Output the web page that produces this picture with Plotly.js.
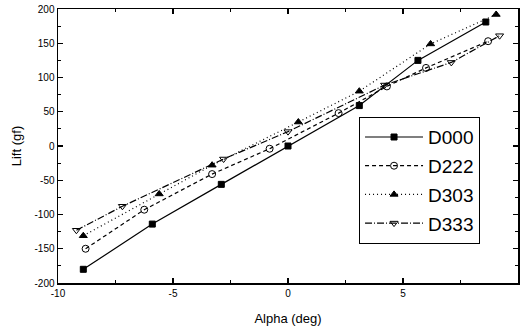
<!DOCTYPE html>
<html><head><meta charset="utf-8">
<script src="https://cdn.plot.ly/plotly-3.0.1.min.js"></script>
<style>html,body{margin:0;padding:0;background:#fff}#c{width:523px;height:330px}</style>
</head><body><div id="c"></div>
<script>
const names = ["D000", "D222", "D303", "D333"];
const xD000 = [-8.9, -5.9, -2.9, 0.0, 3.1, 5.65, 8.6];
const yD000 = [-180, -114, -56, 0, 59, 125, 181];
const xD222 = [-8.8, -6.25, -3.3, -0.8, 2.2, 4.3, 6.0, 8.7];
const yD222 = [-150, -93, -41, -4, 48, 87, 114, 153];
const xD303 = [-8.9, -5.6, -3.3, 0.45, 3.1, 6.2, 9.05];
const yD303 = [-131, -70, -28, 35, 80, 149, 192];
const xD333 = [-9.2, -7.2, -2.8, 0.0, 4.2, 7.1, 9.2];
const yD333 = [-123, -88, -19, 21, 89, 122, 161];
const xTicks = [-10, -5, 0, 5, 10];
const yTicks = [-200, -150, -100, -50, 0, 50, 100, 150, 200];

const xs = [xD000, xD222, xD303, xD333];
const ys = [yD000, yD222, yD303, yD333];
const dashes = ["solid", "4px,3px", "1px,3px", "7px,2px,1px,2px"];
const symbols = ["square", "circle-open", "triangle-up", "triangle-down-open"];
const sizes = [6, 7, 7, 7];

const traces = names.map((n, i) => ({
  x: xs[i], y: ys[i], name: n, legendgroup: n, type: "scatter", mode: "lines+markers",
  line: {color: "#000", width: 1.2, dash: dashes[i]},
  marker: {symbol: symbols[i], size: sizes[i], color: "#000", line: {color: "#000", width: 1}}
}));

const fam = "Liberation Sans, Arial, sans-serif";
const axisCommon = {
  showgrid: false, zeroline: false, showline: true, linecolor: "#000", linewidth: 1.5,
  mirror: "ticks", ticks: "inside", ticklen: 5, tickwidth: 1.2, tickcolor: "#000",
  tickfont: {family: fam, size: 10, color: "#000"}
};

const layout = {
  width: 523, height: 330,
  margin: {l: 58, r: 5, t: 9, b: 47},
  paper_bgcolor: "#fff", plot_bgcolor: "#fff",
  showlegend: true,
  legend: {
    x: 0.654, y: 0.606, xanchor: "left", yanchor: "top",
    bordercolor: "#000", borderwidth: 1.2, bgcolor: "#fff",
    font: {family: fam, size: 19, color: "#000"},
    tracegroupgap: 1, itemwidth: 58
  },
  xaxis: Object.assign({}, axisCommon, {
    range: [-10, 10], tickvals: xTicks, ticktext: xTicks.map(String),
    minor: {dtick: 2.5, ticks: "inside", ticklen: 3, tickcolor: "#000", tickwidth: 1},
    title: {text: "Alpha (deg)", font: {family: fam, size: 13, color: "#000"}, standoff: 16}
  }),
  yaxis: Object.assign({}, axisCommon, {
    range: [-200, 200], tickvals: yTicks, ticktext: yTicks.map(String),
    minor: {dtick: 25, ticks: "inside", ticklen: 3, tickcolor: "#000", tickwidth: 1},
    title: {text: "Lift (gf)", font: {family: fam, size: 13, color: "#000"}, standoff: 10}
  })
};

Plotly.newPlot("c", traces, layout, {displayModeBar: false, staticPlot: true});
</script>
</body></html>
